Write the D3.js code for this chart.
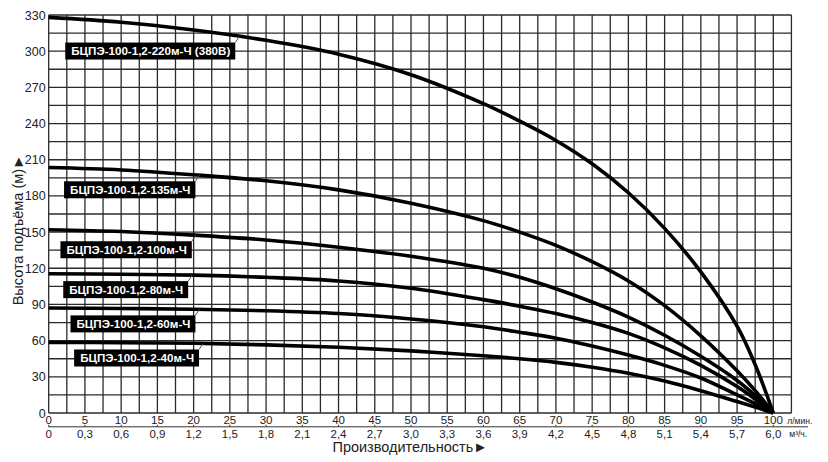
<!DOCTYPE html>
<html>
<head>
<meta charset="utf-8">
<script src="https://cdn.jsdelivr.net/npm/d3@7"></script>
<style>
  body { margin: 0; background: #fff; }
  svg { display: block; font-family: "Liberation Sans", Arial, sans-serif; }
</style>
</head>
<body>
<svg id="chart" width="828" height="462"></svg>
<script>
// flow points, l/min
const flow = [0, 10, 20, 30, 40, 50, 60, 65, 70, 75, 80, 85, 90, 95, 97.5, 100];

// head, m
const head220 = [328, 324, 317.5, 309, 297.5, 280.5, 256.5, 242, 226, 206.6, 182.6, 153.1, 117, 72, 40, 0];
const head135 = [203.5, 201.5, 197.5, 192.5, 185, 174, 159.5, 150, 139, 125.5, 109.5, 89, 64, 35, 18.5, 0];
const head100 = [152, 150.5, 147.5, 143.5, 137.5, 130, 120, 112.5, 103, 92, 79.5, 64.5, 47, 27, 14.5, 0];
const head80 = [115.5, 115, 114.3, 112.5, 109.5, 103.5, 94, 88.5, 82.5, 75, 66, 54, 39.5, 22, 11.5, 0];
const head60 = [87, 86.7, 86, 84.8, 82.5, 78, 71.5, 67, 62, 55.5, 48, 39.5, 29, 15, 7.7, 0];
const head40 = [58.5, 58.3, 57.8, 56.5, 54.5, 51.5, 47.5, 45, 42, 38, 33, 26.5, 18.5, 9.5, 4.9, 0];

const pumpNames = [
  "БЦПЭ-100-1,2-220м-Ч (380В)",
  "БЦПЭ-100-1,2-135м-Ч",
  "БЦПЭ-100-1,2-100м-Ч",
  "БЦПЭ-100-1,2-80м-Ч",
  "БЦПЭ-100-1,2-60м-Ч",
  "БЦПЭ-100-1,2-40м-Ч"
];
const pumpHeads = [head220, head135, head100, head80, head60, head40];
// where the label leader touches each curve (l/min)
const labelAt = [26.3, 20.8, 20.3, 19.8, 20.8, 21.3];

const flowTicks = [0, 5, 10, 15, 20, 25, 30, 35, 40, 45, 50, 55, 60, 65, 70, 75, 80, 85, 90, 95, 100];
const m3Labels = ["0", "0,3", "0,6", "0,9", "1,2", "1,5", "1,8", "2,1", "2,4", "2,7", "3,0",
                  "3,3", "3,6", "3,9", "4,2", "4,5", "4,8", "5,1", "5,4", "5,7", "6,0"];
const headTicks = [0, 30, 60, 90, 120, 150, 180, 210, 240, 270, 300, 330];

/*--------------------------------------------------------------------------*/

let svg = d3.select("#chart");

let x = d3.scaleLinear().domain([0, 100]).range([48.7, 773.3]),
  y = d3.scaleLinear().domain([0, 330]).range([413, 15]);

let xMax = 102.5, yMax = 330;

// grid
let grid = svg.append("g").attr("class", "grid")
  .attr("stroke", "#2b2b2b").attr("stroke-width", 1.3);
grid.selectAll("line.v")
  .data(d3.range(0, xMax + 0.01, 2.5))
  .enter().append("line")
  .attr("x1", d => x(d)).attr("x2", d => x(d))
  .attr("y1", y(0)).attr("y2", y(yMax));
grid.selectAll("line.h")
  .data(d3.range(0, yMax + 0.01, 15))
  .enter().append("line")
  .attr("x1", x(0)).attr("x2", x(xMax))
  .attr("y1", d => y(d)).attr("y2", d => y(d));

// y tick labels
svg.append("g")
  .selectAll("text")
  .data(headTicks)
  .enter().append("text")
  .attr("x", x(0) - 3)
  .attr("y", d => y(d))
  .attr("dy", "0.36em")
  .attr("text-anchor", "end")
  .attr("font-size", 12.5)
  .attr("fill", "#222")
  .text(d => d);

// two rows of x labels with a rule between
let gx = svg.append("g").attr("fill", "#222").attr("font-size", 11.5);
gx.selectAll("text.lpm")
  .data(flowTicks)
  .enter().append("text")
  .attr("x", d => x(d))
  .attr("y", 424.2)
  .attr("text-anchor", "middle")
  .text(d => d);
gx.selectAll("text.m3")
  .data(flowTicks)
  .enter().append("text")
  .attr("x", d => x(d))
  .attr("y", 437.6)
  .attr("text-anchor", "middle")
  .text((d, i) => m3Labels[i]);
gx.append("line")
  .attr("x1", x(0)).attr("x2", 808)
  .attr("y1", 426.8).attr("y2", 426.8)
  .attr("stroke", "#333").attr("stroke-width", 1);
gx.selectAll("line.tick")
  .data(flowTicks)
  .enter().append("line")
  .attr("x1", d => x(d)).attr("x2", d => x(d))
  .attr("y1", 424.8).attr("y2", 426.8)
  .attr("stroke", "#333").attr("stroke-width", 1);
gx.append("text")
  .attr("x", x(100) + 14).attr("y", 424)
  .attr("font-size", 8.5)
  .text("л/мин.");
gx.append("text")
  .attr("x", x(100) + 16).attr("y", 437)
  .attr("font-size", 8.5)
  .text("м³/ч.");

// axis titles
svg.append("text")
  .attr("x", 410).attr("y", 452)
  .attr("text-anchor", "middle")
  .attr("font-size", 14.5)
  .attr("fill", "#222")
  .text("Производительность►");
svg.append("text")
  .attr("transform", "translate(23,230) rotate(-90)")
  .attr("text-anchor", "middle")
  .attr("font-size", 14.5)
  .attr("fill", "#222")
  .text("Высота подъёма (м)►");

// curves
let line = d3.line()
  .x((d, i) => x(flow[i]))
  .y(d => y(d))
  .curve(d3.curveCatmullRom.alpha(0.5));

svg.append("g").attr("class", "curves")
  .selectAll("path")
  .data(pumpHeads)
  .enter().append("path")
  .attr("d", line)
  .attr("fill", "none")
  .attr("stroke", "#000")
  .attr("stroke-width", 3.6)
  .attr("stroke-linejoin", "round");

/** head at a given flow, linear between read points */
function headAt(heads, q)
{
  let i = d3.bisectRight(flow, q) - 1,
  t = (q - flow[i]) / (flow[i + 1] - flow[i]);
  return heads[i] + t * (heads[i + 1] - heads[i]);
}

// black name boxes with a leader to the curve
let gl = svg.append("g").attr("class", "labels");
pumpNames.forEach(function (name, i) {
  let px = x(labelAt[i]),
    py = y(headAt(pumpHeads[i], labelAt[i])),
    right = px - 4,
    top = py + 6,
    g = gl.append("g");
  let t = g.append("text")
    .attr("font-size", 11.6)
    .attr("font-weight", "bold")
    .attr("fill", "#fff")
    .attr("text-anchor", "end")
    .attr("x", right - 5)
    .attr("y", top + 12.6)
    .text(name);
  let w = t.node().getComputedTextLength() + 11;
  g.insert("rect", "text")
    .attr("x", right - w).attr("y", top)
    .attr("width", w).attr("height", 17)
    .attr("fill", "#000");
  g.append("line")
    .attr("x1", right).attr("y1", top)
    .attr("x2", px).attr("y2", py)
    .attr("stroke", "#555").attr("stroke-width", 1);
});
</script>
</body>
</html>
